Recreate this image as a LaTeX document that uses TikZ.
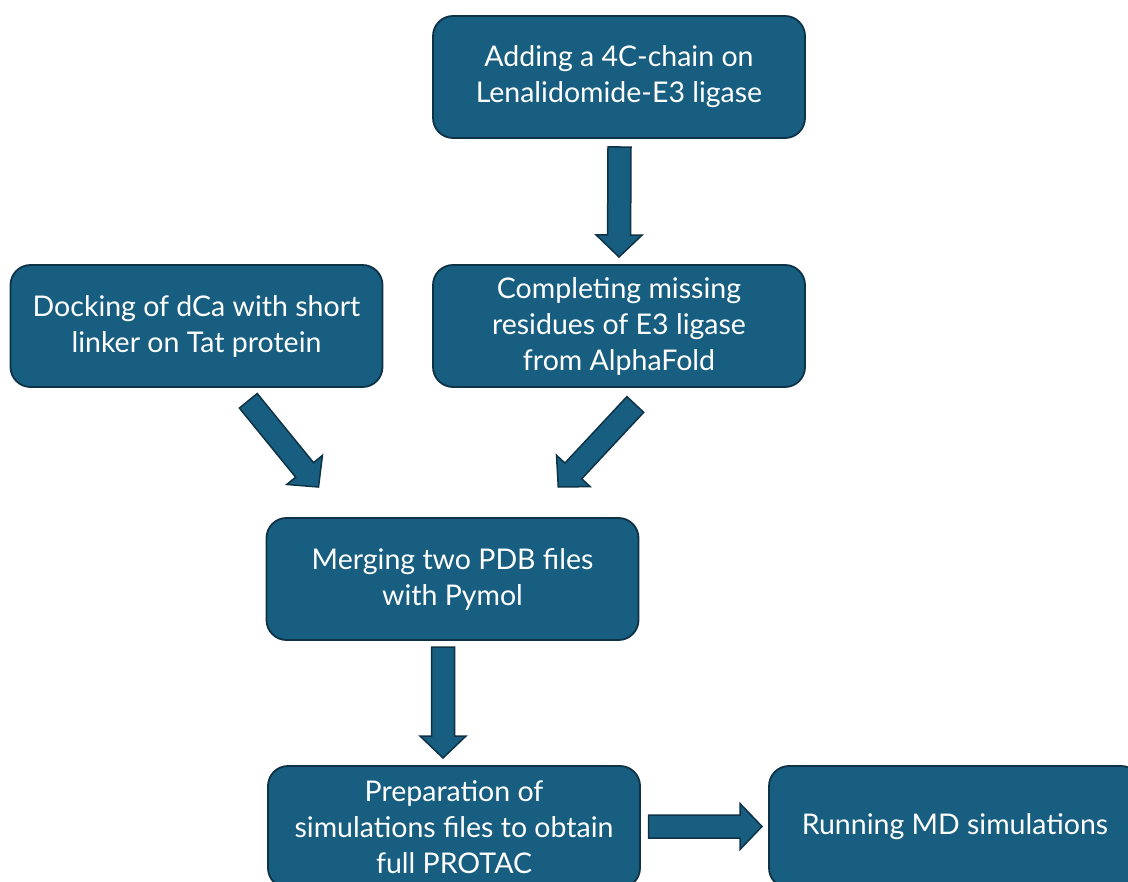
\documentclass[tikz,border=0pt]{standalone}
\usepackage{fontspec}
\setmainfont{Lato}
\usetikzlibrary{calc}
\definecolor{boxfill}{RGB}{23,94,128}
\definecolor{boxline}{RGB}{14,50,70}
\tikzset{
  stepbox/.style={draw=boxline, fill=boxfill, line width=1.8pt, rounded corners=20pt,
    minimum width=372pt, minimum height=122pt, align=center, text=white,
    font=\fontsize{28.5}{36}\selectfont, inner sep=0pt},
  blockarrow/.style={draw=boxline, fill=boxfill, line width=1.5pt, line join=miter}
}
\newcommand\blockarr[2]{%
  \draw[blockarrow]
    ($(#1)!11.5pt!90:(#2)$) --
    ($($(#2)!22pt!(#1)$)!11.5pt!-90:(#1)$) --
    ($($(#2)!22pt!(#1)$)!23pt!-90:(#1)$) --
    (#2) --
    ($($(#2)!22pt!(#1)$)!23pt!90:(#1)$) --
    ($($(#2)!22pt!(#1)$)!11.5pt!90:(#1)$) --
    ($(#1)!11.5pt!-90:(#2)$) -- cycle;}
\begin{document}
\begin{tikzpicture}[x=1pt,y=-1pt]
\useasboundingbox (0,0) rectangle (1128,882);
\clip (0,0) rectangle (1128,882);
\node[stepbox] (A) at (619,77) {Adding a 4C-chain on\\Lenalidomide-E3 ligase};
\node[stepbox] (B) at (619,326) {Completing missing\\residues of E3 ligase\\from AlphaFold};
\node[stepbox] (C) at (196.5,326) {Docking of dCa with short\\linker on Tat protein};
\node[stepbox] (D) at (452.5,579) {Merging two PDB files\\with Pymol};
\node[stepbox] (E) at (454,827) {Preparation of\\simulations files to obtain\\full PROTAC};
\node[stepbox] (F) at (955,827) {Running MD simulations};
% arrow endpoints
\coordinate (abS) at (619.5,147);
\coordinate (abT) at (619,257);
\coordinate (cdS) at (248.3,400.8);
\coordinate (cdT) at (318.5,487);
\coordinate (bdS) at (635.3,404.5);
\coordinate (bdT) at (558.3,487);
\coordinate (deS) at (443,647);
\coordinate (deT) at (443,758);
\coordinate (efS) at (648.5,826.5);
\coordinate (efT) at (762,826.5);
\blockarr{abS}{abT}
\blockarr{cdS}{cdT}
\blockarr{bdS}{bdT}
\blockarr{deS}{deT}
\blockarr{efS}{efT}
\end{tikzpicture}
\end{document}
